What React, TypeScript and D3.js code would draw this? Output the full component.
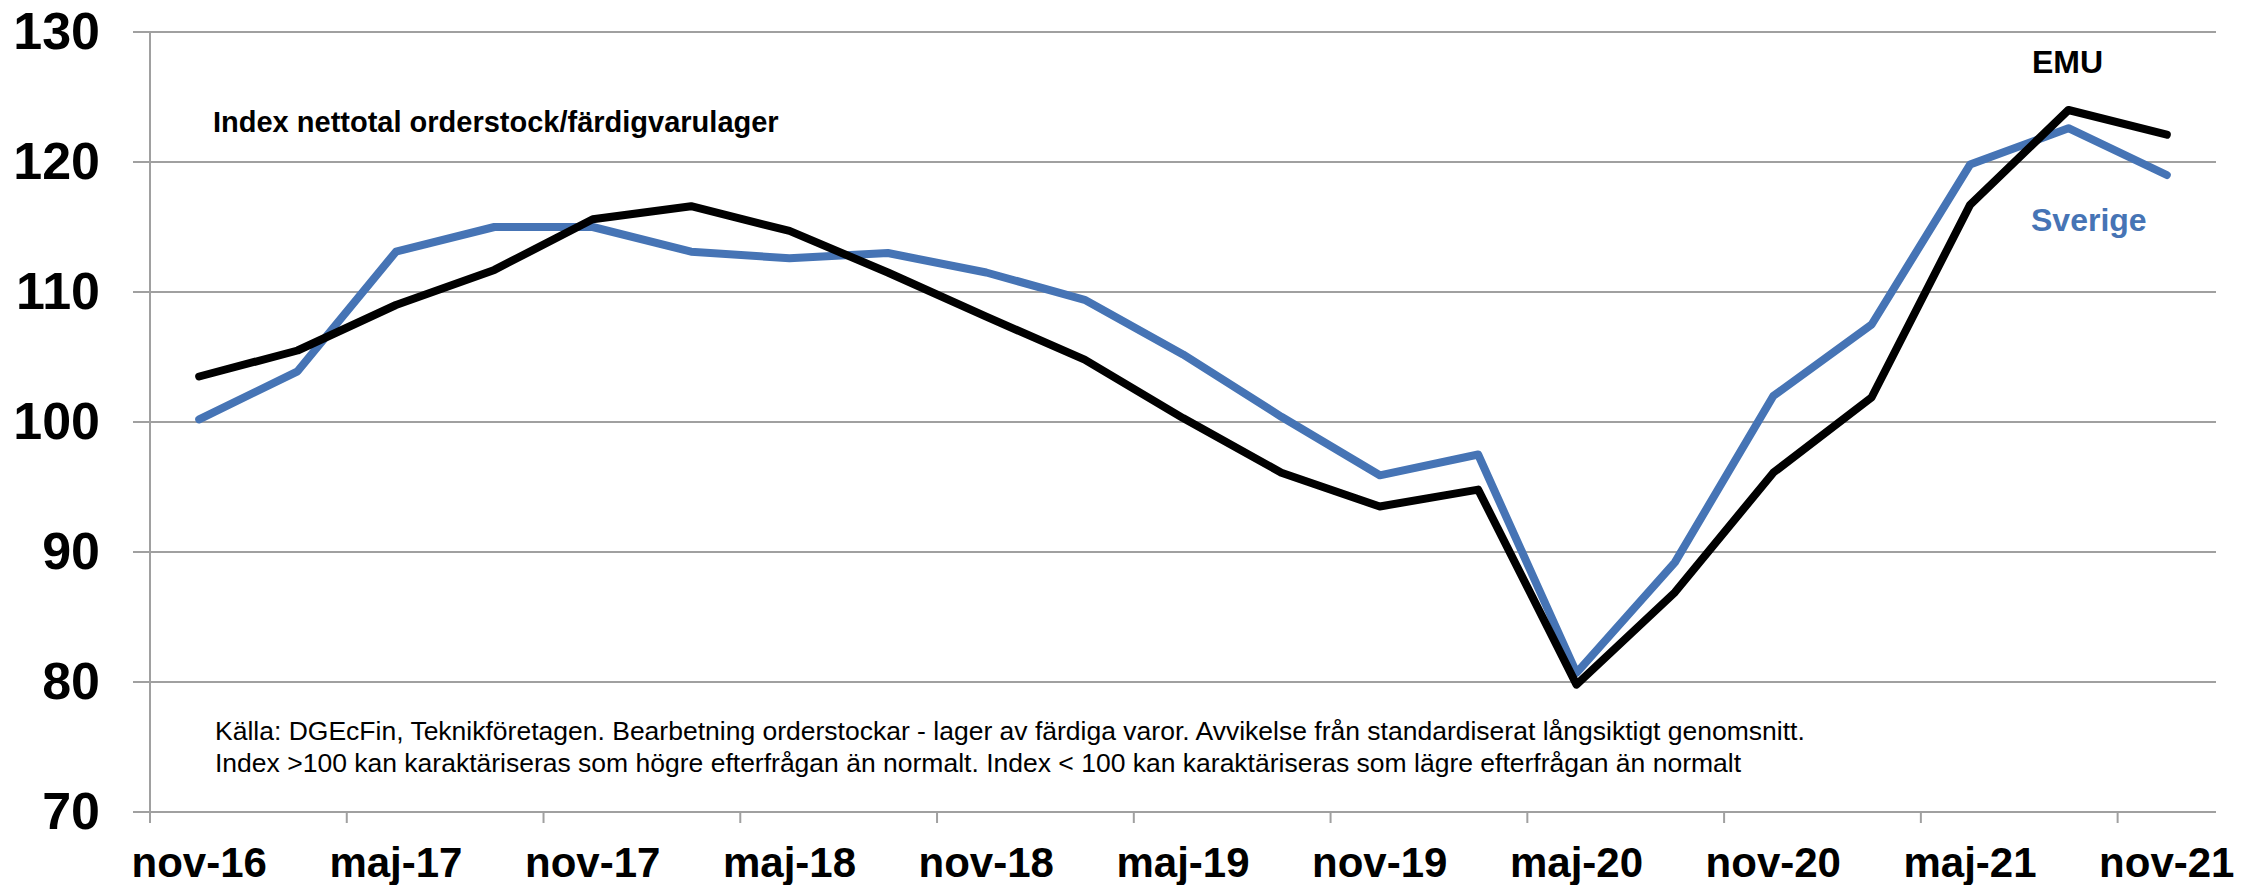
import React from "react";
import * as d3 from "d3";

const categories = [
  "nov-16", "feb-17", "maj-17", "aug-17", "nov-17", "feb-18", "maj-18", "aug-18",
  "nov-18", "feb-19", "maj-19", "aug-19", "nov-19", "feb-20", "maj-20", "aug-20",
  "nov-20", "feb-21", "maj-21", "aug-21", "nov-21",
];
const sverige = [
  100.2, 103.9, 113.1, 115.0, 115.0, 113.1, 112.6, 113.0, 111.5, 109.4, 105.2,
  100.4, 95.9, 97.5, 80.7, 89.2, 102.0, 107.5, 119.8, 122.6, 119.0,
];
const emu = [
  103.5, 105.5, 109.0, 111.7, 115.6, 116.6, 114.7, 111.5, 108.1, 104.8, 100.3,
  96.1, 93.5, 94.8, 79.8, 86.9, 96.1, 101.9, 116.7, 124.0, 122.1,
];
const yTicks = [70, 80, 90, 100, 110, 120, 130];
const titleText = "Index nettotal orderstock/färdigvarulager";
const noteLines = [
  "Källa: DGEcFin, Teknikföretagen. Bearbetning orderstockar - lager av färdiga varor. Avvikelse från standardiserat långsiktigt genomsnitt.",
  "Index >100 kan karaktäriseras som högre efterfrågan än normalt. Index < 100 kan karaktäriseras som lägre efterfrågan än normalt",
];

const W = 2257;
const H = 885;
const FONT = "'Liberation Sans', Arial, Helvetica, sans-serif";
const BLUE = "#4674B5";
const GRID = "#a0a0a0";

export default function App() {
  const x = d3.scaleBand<string>().domain(categories).range([150, 2216]).padding(0);
  const y = d3.scaleLinear().domain([70, 130]).range([812, 32]);
  const cx = (i: number) => (x(categories[i]) as number) + x.bandwidth() / 2;
  const line = d3
    .line<number>()
    .x((_, i) => cx(i))
    .y((d) => y(d));

  return (
    <svg
      width={W}
      height={H}
      style={{ position: "absolute", left: 0, top: 0, display: "block", background: "#fff" }}
      fontFamily={FONT}
    >
      <rect x={0} y={0} width={W} height={H} fill="#fff" />
      {yTicks.map((t) => (
        <g key={t}>
          <line x1={133} x2={2216} y1={y(t)} y2={y(t)} stroke={GRID} strokeWidth={2} />
          <text
            x={100}
            y={y(t) + 17}
            textAnchor="end"
            fontSize={52}
            fontWeight="bold"
            fill="#000"
          >
            {t}
          </text>
        </g>
      ))}
      <line x1={150} x2={150} y1={y(130)} y2={y(70) + 11} stroke={GRID} strokeWidth={2} />
      {categories.map((c, i) =>
        i % 2 === 0 ? (
          <g key={c}>
            {i > 0 && (
              <line
                x1={x(c) as number}
                x2={x(c) as number}
                y1={y(70)}
                y2={y(70) + 11}
                stroke={GRID}
                strokeWidth={2}
              />
            )}
            <text
              x={cx(i)}
              y={877}
              textAnchor="middle"
              fontSize={42}
              fontWeight="bold"
              fill="#000"
            >
              {c}
            </text>
          </g>
        ) : null
      )}
      <path
        d={line(sverige) || ""}
        fill="none"
        stroke={BLUE}
        strokeWidth={8}
        strokeLinejoin="round"
        strokeLinecap="round"
      />
      <path
        d={line(emu) || ""}
        fill="none"
        stroke="#000"
        strokeWidth={8}
        strokeLinejoin="round"
        strokeLinecap="round"
      />
      <text x={213} y={132} fontSize={29} fontWeight="bold" fill="#000">
        {titleText}
      </text>
      <text x={2032} y={73} fontSize={32} fontWeight="bold" fill="#000">
        EMU
      </text>
      <text x={2031} y={231} fontSize={32} fontWeight="bold" fill={BLUE}>
        Sverige
      </text>
      {noteLines.map((l, i) => (
        <text key={i} x={215} y={740 + i * 32} fontSize={26.5} fill="#000">
          {l}
        </text>
      ))}
    </svg>
  );
}
